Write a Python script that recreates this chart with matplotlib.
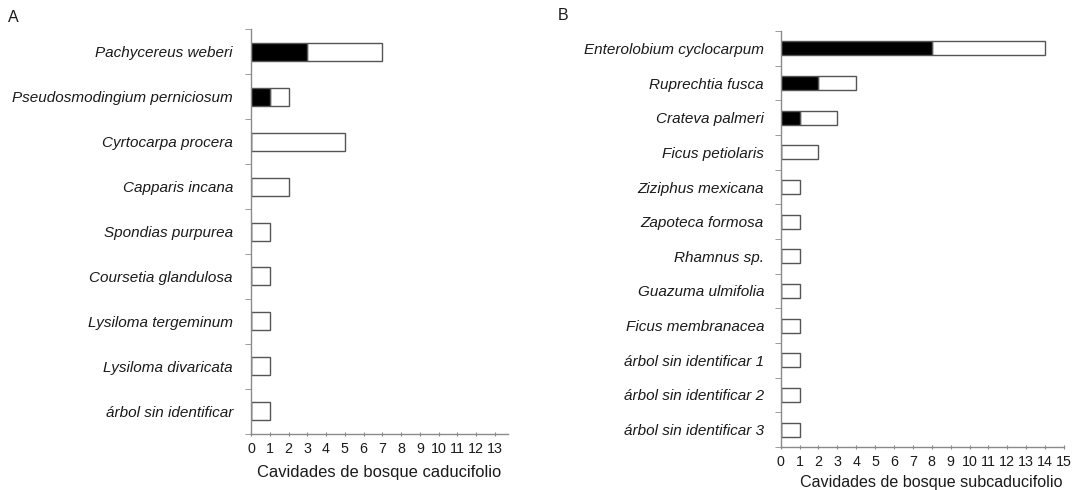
import matplotlib
matplotlib.use("Agg")
import matplotlib.pyplot as plt
import numpy as np

plt.rcParams['font.family'] = ['Liberation Sans', 'DejaVu Sans']

# bosque caducifolio
sp_a = ["Pachycereus weberi", "Pseudosmodingium perniciosum", "Cyrtocarpa procera",
        "Capparis incana", "Spondias purpurea", "Coursetia glandulosa",
        "Lysiloma tergeminum", "Lysiloma divaricata", "árbol sin identificar"]
ocup_a = [3, 1, 0, 0, 0, 0, 0, 0, 0]
total_a = [7, 2, 5, 2, 1, 1, 1, 1, 1]

# bosque subcaducifolio
sp_b = ["Enterolobium cyclocarpum", "Ruprechtia fusca", "Crateva palmeri",
        "Ficus petiolaris", "Ziziphus mexicana", "Zapoteca formosa",
        "Rhamnus sp.", "Guazuma ulmifolia", "Ficus membranacea",
        "árbol sin identificar 1", "árbol sin identificar 2", "árbol sin identificar 3"]
ocup_b = [8, 2, 1, 0, 0, 0, 0, 0, 0, 0, 0, 0]
total_b = [14, 4, 3, 2, 1, 1, 1, 1, 1, 1, 1, 1]

axis_c = "#8a8a8a"
edge_c = "#555555"
text_c = "#1a1a1a"

fig = plt.figure(figsize=(10.74, 4.90), dpi=100)
ax_a = fig.add_axes([0.2337, 0.1143, 0.2393, 0.8265])
ax_b = fig.add_axes([0.7269, 0.0878, 0.2638, 0.8489])


def panel(ax, names, black, total, xmax, nticks, xlabel, pad, lpad):
    n = len(names)
    y = np.arange(n)
    black = np.array(black)
    total = np.array(total)
    ax.barh(y, total - black, left=black, height=0.4, color="white",
            edgecolor=edge_c, linewidth=1.0)
    ax.barh(y, black, height=0.4, color="black", edgecolor=edge_c, linewidth=1.0)
    ax.set_ylim(n - 0.5, -0.5)
    ax.set_xlim(0, xmax)
    ax.set_yticks(y)
    ax.set_yticklabels(names, style="italic", fontsize=11.0, color=text_c)
    ax.set_yticks(np.arange(n + 1) - 0.5, minor=True)
    ax.tick_params(axis="y", which="major", length=0, pad=pad)
    ax.tick_params(axis="y", which="minor", length=4, color=axis_c, direction="out")
    ax.set_xticks(np.arange(nticks + 1))
    ax.tick_params(axis="x", length=3, color=axis_c, direction="inout",
                   labelsize=10.3, labelcolor=text_c, pad=4)
    ax.set_xlabel(xlabel, fontsize=11.9, color=text_c, labelpad=lpad)
    for s in ("top", "right"):
        ax.spines[s].set_visible(False)
    for s in ("left", "bottom"):
        ax.spines[s].set_color(axis_c)
        ax.spines[s].set_linewidth(1.0)


panel(ax_a, sp_a, ocup_a, total_a, 13.7, 13, "Cavidades de bosque caducifolio", 13, 7)
panel(ax_b, sp_b, ocup_b, total_b, 15, 15, "Cavidades de bosque subcaducifolio", 12, 3)
ax_b.xaxis.set_label_coords(0.53, -0.068)
ax_b.xaxis.label.set_fontsize(11.6)

fig.text(8 / 1074, 1 - 18 / 490, "A", fontsize=11.5, color=text_c, va="center")
fig.text(558 / 1074, 1 - 16 / 490, "B", fontsize=11.5, color=text_c, va="center")

fig.savefig("out.png", dpi=100, facecolor="white")
